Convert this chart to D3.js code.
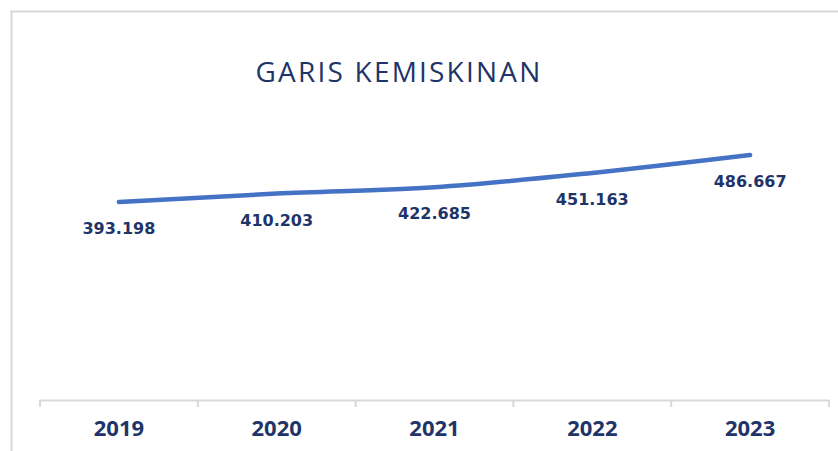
<!DOCTYPE html>
<html>
<head>
<meta charset="utf-8">
<script src="https://cdn.jsdelivr.net/npm/d3@7"></script>
<style>
  html, body { margin: 0; padding: 0; background: #fff; }
  svg { display: block; }
</style>
</head>
<body>
<div id="chart"></div>
<script>
const title = 'GARIS KEMISKINAN';
const years = ['2019', '2020', '2021', '2022', '2023'];
const values = [393198, 410203, 422685, 451163, 486667];
const valueLabels = ['393.198', '410.203', '422.685', '451.163', '486.667'];

const width = 838;
const height = 451;
const navy = '#1f3468';

const svg = d3.select('#chart').append('svg').attr('width', width).attr('height', height);

// chart frame, runs off the right and bottom edges
svg.append('rect')
  .attr('x', 11.5).attr('y', 11.5)
  .attr('width', 840).attr('height', 460)
  .attr('fill', '#fff').attr('stroke', '#d9d9d9').attr('stroke-width', 2);

const x = d3.scaleBand().domain(years).range([40, 829]);
const y = d3.scaleLinear().domain([0, 600000]).range([400, 98]);

svg.append('text')
  .attr('x', 399).attr('y', 82)
  .attr('text-anchor', 'middle')
  .attr('font-family', 'Open Sans, sans-serif')
  .attr('font-size', 28)
  .attr('letter-spacing', 2.2)
  .attr('fill', navy)
  .text(title);

// x axis
const axis = svg.append('g').attr('transform', 'translate(0,400)')
  .call(d3.axisBottom(x).tickSize(0).tickPadding(0));
axis.select('.domain').attr('stroke', '#d9d9d9').attr('stroke-width', 2);
axis.selectAll('.tick text')
  .attr('y', 36).attr('dy', null)
  .attr('font-family', 'Open Sans, sans-serif')
  .attr('font-weight', 'bold')
  .attr('font-size', 22)
  .attr('fill', navy);

const edges = years.map((d) => x(d)).concat([x.range()[1]]);
axis.selectAll('line.sep').data(edges).join('line')
  .attr('class', 'sep')
  .attr('x1', (d) => d).attr('x2', (d) => d)
  .attr('y1', 0).attr('y2', 7)
  .attr('stroke', '#d9d9d9').attr('stroke-width', 2);

const cx = (i) => x(years[i]) + x.bandwidth() / 2;

const line = d3.line()
  .x((d, i) => cx(i))
  .y((d) => y(d))
  .curve(d3.curveMonotoneX);

svg.append('path')
  .datum(values)
  .attr('fill', 'none')
  .attr('stroke', '#4472c4')
  .attr('stroke-width', 4.5)
  .attr('stroke-linecap', 'round')
  .attr('d', line);

svg.selectAll('text.val').data(values).join('text')
  .attr('class', 'val')
  .attr('x', (d, i) => cx(i))
  .attr('y', (d) => y(d) + 32)
  .attr('text-anchor', 'middle')
  .attr('font-family', 'DejaVu Sans, Verdana, sans-serif')
  .attr('font-weight', 'bold')
  .attr('font-size', 16)
  .attr('fill', navy)
  .text((d, i) => valueLabels[i]);
</script>
</body>
</html>
